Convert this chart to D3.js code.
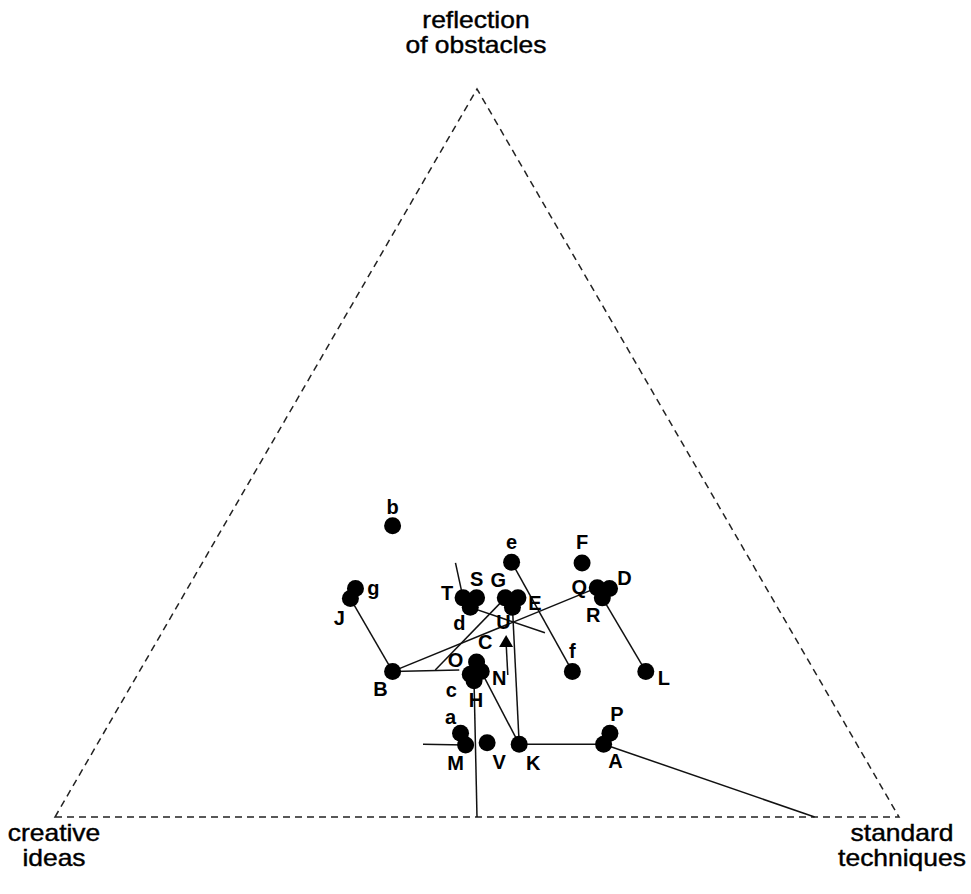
<!DOCTYPE html>
<html>
<head>
<meta charset="utf-8">
<script src="https://cdn.jsdelivr.net/npm/d3@7"></script>
<style>
  html, body { margin: 0; padding: 0; background: #fff; }
  svg { display: block; }
</style>
</head>
<body>
<script>
// ---------- DATA (percent shares: creative ideas / standard techniques / reflection of obstacles) ----------
const pointIds    = ["b","g","J","B","T","S","d","G","E","U","e","F","Q","D","R","f","L","O","N","c","H","a","M","V","K","P","A"];
const creative    = [40.0,48.7,50.0,50.0,36.6,35.0,36.4,31.6,30.1,31.4,28.4,20.1,20.0,18.6,20.1,28.7,20.0,39.4,39.5,41.0,41.0,46.2,46.4,43.7,40.0,28.5,30.0];
const standard    = [20.0,19.9,20.0,30.0,33.3,34.9,34.8,38.3,39.8,39.8,36.6,45.0,48.5,50.0,49.8,51.3,60.0,39.3,40.5,39.4,40.3,42.3,43.7,46.1,50.0,60.0,60.0];
const reflection  = [40.0,31.4,30.0,20.0,30.1,30.1,28.8,30.1,30.1,28.8,35.0,34.9,31.5,31.4,30.1,20.0,20.0,21.3,20.0,19.6,18.7,11.5,9.9,10.2,10.0,11.5,10.0];

// mean marker (triangle) labelled C
const meanId = ["C"];
const meanCreative = [34.6];
const meanStandard = [41.5];
const meanReflection = [23.9];

// free line end points (not plotted as points)
const anchorIds        = ["t1","h0","a0","m0","o0","x0","c0","b1"];
const anchorCreative   = [35.1,50.0,10.0,51.4,44.9,29.3,36.6,42.0];
const anchorStandard   = [30.0,50.0,90.0,38.6,35.0,45.4,43.9,37.8];
const anchorReflection = [34.9, 0.0, 0.0,10.0,20.2,25.3,19.5,20.2];

// connecting segments
const segFrom = ["t1","e","d","B","B","o0","J","R","H","N","K","K","m0","A","c0"];
const segTo   = ["T", "f","x0","Q","b1","G", "B","L","h0","K","U","A","M", "a0","C"];

// corner titles
const cornerLeft  = ["creative","ideas"];
const cornerRight = ["standard","techniques"];
const cornerTop   = ["reflection","of obstacles"];

// ---------- LAYOUT ----------
const W = 971, H = 894;
const svg = d3.select("body").append("svg").attr("width", W).attr("height", H);

// unit ternary -> cartesian: u = standard + reflection/2, v = reflection
const xScale = d3.scaleLinear().domain([0, 1]).range([55, 899]);
const yScale = d3.scaleLinear().domain([0, 1]).range([817, 89]);
function proj(c, s, t) {
  const tot = c + s + t;
  const ss = s / tot, tt = t / tot;
  return [xScale(ss + tt / 2), yScale(tt)];
}

const pos = {};
pointIds.forEach((id, i) => pos[id] = proj(creative[i], standard[i], reflection[i]));
anchorIds.forEach((id, i) => pos[id] = proj(anchorCreative[i], anchorStandard[i], anchorReflection[i]));
meanId.forEach((id, i) => pos[id] = proj(meanCreative[i], meanStandard[i], meanReflection[i]));

// label offsets (px) relative to marker centre
const labelOffset = {
  b:[0,-19], g:[18,0], J:[-11,19], B:[-12,18], T:[-16,-5], S:[0,-19], d:[-11,16],
  G:[-7,-18], E:[17,5], U:[-9,15], e:[0,-20], F:[0,-21], Q:[-18,-1], D:[15,-10],
  R:[-9,17], f:[0,-20], L:[18,7], O:[-21,-2], N:[18,7], c:[-19,16], H:[2,19],
  a:[-10,-16], M:[-10,18], V:[12,19], K:[14,19], P:[7,-19], A:[12,17], C:[-21,-1]
};

// ---------- TRIANGLE FRAME ----------
const corners = [proj(100,0,0), proj(0,100,0), proj(0,0,100)];
svg.append("path")
  .attr("d", d3.line()(corners) + "Z")
  .attr("fill", "none")
  .attr("stroke", "#222")
  .attr("stroke-width", 1.5)
  .attr("stroke-dasharray", "7,5");

// ---------- SEGMENTS ----------
svg.append("g").selectAll("line")
  .data(d3.range(segFrom.length))
  .join("line")
  .attr("x1", i => pos[segFrom[i]][0]).attr("y1", i => pos[segFrom[i]][1])
  .attr("x2", i => pos[segTo[i]][0]).attr("y2", i => pos[segTo[i]][1])
  .attr("stroke", "#111").attr("stroke-width", 1.5);

// ---------- POINTS ----------
svg.append("g").selectAll("circle")
  .data(pointIds)
  .join("circle")
  .attr("cx", d => pos[d][0]).attr("cy", d => pos[d][1])
  .attr("r", 8.5).attr("fill", "#000");

// mean triangle
svg.append("g").selectAll("path")
  .data(meanId)
  .join("path")
  .attr("transform", d => `translate(${pos[d][0]},${pos[d][1]})`)
  .attr("d", d3.symbol().type(d3.symbolTriangle).size(85))
  .attr("fill", "#000");

// ---------- POINT LABELS ----------
svg.append("g").selectAll("text")
  .data(pointIds.concat(meanId))
  .join("text")
  .attr("x", d => pos[d][0] + labelOffset[d][0])
  .attr("y", d => pos[d][1] + labelOffset[d][1])
  .attr("text-anchor", "middle")
  .attr("dominant-baseline", "central")
  .attr("font-family", "Liberation Sans, Arial, sans-serif")
  .attr("font-weight", "bold")
  .attr("font-size", 20)
  .attr("fill", "#000")
  .text(d => d);

// ---------- CORNER TITLES ----------
function corner(lines, cx, y0) {
  const g = svg.append("g");
  lines.forEach((t, i) => {
    g.append("text")
      .attr("transform", `translate(${cx},${y0 + i * 25}) scale(1.15,1)`)
      .attr("text-anchor", "middle")
      .attr("font-family", "Liberation Sans, Arial, sans-serif")
      .attr("font-size", 23)
      .attr("stroke", "#000")
      .attr("stroke-width", 0.4)
      .attr("fill", "#000")
      .text(t);
  });
}
corner(cornerTop, 476, 28);
corner(cornerLeft, 54, 841);
corner(cornerRight, 902, 841);
</script>
</body>
</html>
